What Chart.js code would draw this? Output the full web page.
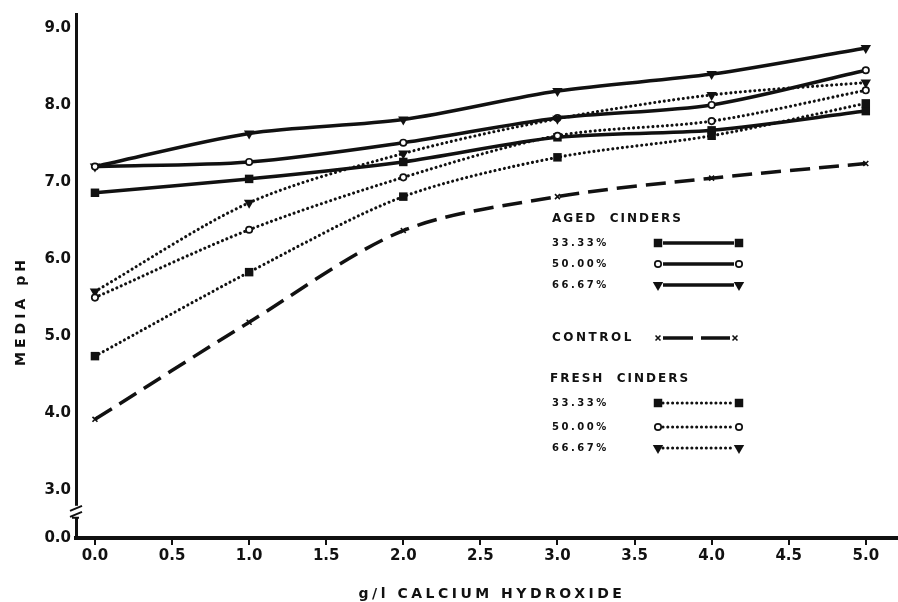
<!DOCTYPE html>
<html>
<head>
<meta charset="utf-8">
<script src="https://cdn.jsdelivr.net/npm/chart.js@4.4.0/dist/chart.umd.min.js"></script>
<style>
  html, body { margin: 0; padding: 0; background: #fff; }
  #wrap { width: 898px; height: 602px; }
</style>
</head>
<body>
<div id="wrap"><canvas id="ph-chart" width="898" height="602"></canvas></div>
<script>
// g/l calcium hydroxide added
var doses = [0, 1, 2, 3, 4, 5];
var xTickValues = [0, 0.5, 1, 1.5, 2, 2.5, 3, 3.5, 4, 4.5, 5];
var yTickValues = [3, 4, 5, 6, 7, 8, 9];
// bottom of the broken axis, labelled as 0.0
var axisBreakValue = 2.38;
var axisBreakLabel = '0.0';

// media pH
var aged333 = [6.86, 7.04, 7.26, 7.58, 7.67, 7.92];
var aged500 = [7.20, 7.26, 7.51, 7.83, 8.00, 8.45];
var aged667 = [7.20, 7.63, 7.81, 8.18, 8.40, 8.74];
var control = [3.92, 5.18, 6.37, 6.81, 7.05, 7.24];
var fresh333 = [4.74, 5.83, 6.81, 7.32, 7.60, 8.02];
var fresh500 = [5.50, 6.38, 7.06, 7.60, 7.79, 8.19];
var fresh667 = [5.58, 6.73, 7.37, 7.82, 8.13, 8.29];

var ink = '#111';

var lineStyles = {
  solid: { borderWidth: 3.5, borderDash: [], borderCapStyle: 'butt' },
  dotted: { borderWidth: 3.1, borderDash: [0.01, 4.8], borderCapStyle: 'round' },
  dashed: { borderWidth: 3.5, borderDash: [20, 9], borderCapStyle: 'butt' }
};
var markers = {
  square: { pointStyle: 'rect', radius: 6, rotation: 0, fill: ink, borderWidth: 0 },
  circle: { pointStyle: 'circle', radius: 3.2, rotation: 0, fill: '#fff', borderWidth: 1.7 },
  triangle: { pointStyle: 'triangle', radius: 6, rotation: 180, fill: ink, borderWidth: 0 },
  cross: { pointStyle: 'crossRot', radius: 3.5, rotation: 0, fill: ink, borderWidth: 1.6 }
};

function makeSeries(label, values, line, marker) {
  var l = lineStyles[line], m = markers[marker];
  return {
    label: label,
    data: doses.map(function (d, i) { return { x: d, y: values[i] }; }),
    borderColor: ink,
    borderWidth: l.borderWidth,
    borderDash: l.borderDash,
    borderCapStyle: l.borderCapStyle,
    tension: 0.3,
    fill: false,
    pointStyle: m.pointStyle,
    pointRadius: m.radius,
    pointRotation: m.rotation,
    pointBackgroundColor: m.fill,
    pointBorderColor: ink,
    pointBorderWidth: m.borderWidth
  };
}

var datasets = [
  makeSeries('control', control, 'dashed', 'cross'),
  makeSeries('fresh 33.33%', fresh333, 'dotted', 'square'),
  makeSeries('fresh 50.00%', fresh500, 'dotted', 'circle'),
  makeSeries('fresh 66.67%', fresh667, 'dotted', 'triangle'),
  makeSeries('aged 33.33%', aged333, 'solid', 'square'),
  makeSeries('aged 50.00%', aged500, 'solid', 'circle'),
  makeSeries('aged 66.67%', aged667, 'solid', 'triangle')
];

function spacedText(ctx, text, x, y, spacing) {
  if ('letterSpacing' in ctx) {
    ctx.letterSpacing = spacing + 'px';
    ctx.fillText(text, x, y);
    ctx.letterSpacing = '0px';
  } else {
    ctx.fillText(text, x, y);
  }
}

function drawMarker(ctx, marker, x, y) {
  var m = markers[marker];
  ctx.save();
  ctx.setLineDash([]);
  ctx.fillStyle = m.fill;
  ctx.strokeStyle = ink;
  ctx.lineWidth = m.borderWidth;
  Chart.helpers.drawPoint(ctx, { pointStyle: m.pointStyle, radius: m.radius, rotation: m.rotation, borderWidth: m.borderWidth }, x, y);
  ctx.restore();
}

function drawSample(ctx, line, marker, x1, x2, y) {
  var l = lineStyles[line];
  ctx.save();
  ctx.strokeStyle = ink;
  ctx.lineWidth = l.borderWidth;
  ctx.lineCap = l.borderCapStyle;
  ctx.setLineDash(line === 'dashed' ? [30, 8] : l.borderDash);
  ctx.beginPath();
  ctx.moveTo(x1 + 5, y);
  ctx.lineTo(x2 - 5, y);
  ctx.stroke();
  ctx.restore();
  drawMarker(ctx, marker, x1, y);
  drawMarker(ctx, marker, x2, y);
}

// axis titles, axis break and the grouped key
var decorations = {
  id: 'decorations',
  afterDraw: function (chart) {
    var ctx = chart.ctx;
    var area = chart.chartArea;
    var yScale = chart.scales.y;
    ctx.save();
    ctx.fillStyle = ink;
    ctx.textBaseline = 'middle';

    // x axis runs on to the right edge
    ctx.strokeStyle = ink;
    ctx.lineWidth = 4;
    ctx.beginPath();
    ctx.moveTo(area.right - 1, area.bottom);
    ctx.lineTo(chart.width, area.bottom);
    ctx.stroke();

    // axis titles
    ctx.font = 'bold 14px "DejaVu Sans"';
    ctx.textAlign = 'center';
    spacedText(ctx, 'g/l CALCIUM HYDROXIDE', 492, 594, 3.5);
    ctx.save();
    ctx.translate(21, 311);
    ctx.rotate(-Math.PI / 2);
    spacedText(ctx, 'MEDIA pH', 0, 0, 4);
    ctx.restore();

    // break in the y axis
    var yb = yScale.getPixelForValue(2.72);
    var ax = area.left;
    ctx.fillStyle = '#fff';
    ctx.fillRect(ax - 3, yb - 6, 6, 12);
    ctx.strokeStyle = ink;
    ctx.lineWidth = 2;
    ctx.beginPath();
    ctx.moveTo(ax - 6, yb - 1); ctx.lineTo(ax + 6, yb - 6);
    ctx.moveTo(ax - 6, yb + 5); ctx.lineTo(ax + 6, yb);
    ctx.moveTo(ax - 4, yb + 6); ctx.lineTo(ax + 3, yb + 6);
    ctx.stroke();

    // key
    ctx.fillStyle = ink;
    ctx.textAlign = 'left';
    var keyX = 552, lineX1 = 658, lineX2 = 739;
    ctx.font = 'bold 12px "DejaVu Sans"';
    spacedText(ctx, 'AGED  CINDERS', keyX, 219, 2);
    spacedText(ctx, 'CONTROL', keyX, 338, 2.5);
    spacedText(ctx, 'FRESH  CINDERS', keyX - 2, 379, 2);
    var rows = [
      ['33.33%', 243, 'solid', 'square'],
      ['50.00%', 264, 'solid', 'circle'],
      ['66.67%', 285, 'solid', 'triangle'],
      ['33.33%', 403, 'dotted', 'square'],
      ['50.00%', 427, 'dotted', 'circle'],
      ['66.67%', 448, 'dotted', 'triangle']
    ];
    ctx.font = 'bold 10px "DejaVu Sans"';
    rows.forEach(function (r) {
      ctx.fillStyle = ink;
      spacedText(ctx, r[0], keyX, r[1], 2.5);
      drawSample(ctx, r[2], r[3], lineX1, lineX2, r[1]);
    });
    drawSample(ctx, 'dashed', 'cross', lineX1, lineX2 - 4, 338);
    ctx.restore();
  }
};

Chart.defaults.font.family = '"DejaVu Sans"';
Chart.defaults.font.weight = 'bold';
Chart.defaults.color = ink;

var ctx = document.getElementById('ph-chart').getContext('2d');
var phChart = new Chart(ctx, {
  type: 'line',
  data: { datasets: datasets },
  options: {
    responsive: false,
    animation: false,
    layout: { padding: { top: 12, right: 0, bottom: 0, left: 0 } },
    plugins: {
      legend: { display: false },
      tooltip: { enabled: false }
    },
    scales: {
      x: {
        type: 'linear',
        min: -0.123,
        max: 5.17,
        afterBuildTicks: function (scale) {
          scale.ticks = xTickValues.map(function (v) { return { value: v }; });
        },
        afterFit: function (scale) { scale.height = 64; },
        ticks: {
          font: { size: 15, weight: 'bold' },
          padding: 2,
          maxRotation: 0,
          callback: function (v) { return v.toFixed(1); }
        },
        grid: { display: true, drawOnChartArea: false, drawTicks: true, tickLength: 7, lineWidth: 2, color: ink },
        border: { display: true, width: 4, color: ink }
      },
      y: {
        type: 'linear',
        min: axisBreakValue,
        max: 9.18,
        afterBuildTicks: function (scale) {
          scale.ticks = [axisBreakValue].concat(yTickValues).map(function (v) { return { value: v }; });
        },
        afterFit: function (scale) { scale.width = 76; },
        ticks: {
          font: { size: 15, weight: 'bold' },
          padding: 5,
          callback: function (v) { return v < yTickValues[0] ? axisBreakLabel : v.toFixed(1); }
        },
        grid: { display: true, drawOnChartArea: false, drawTicks: false },
        border: { display: true, width: 3, color: ink }
      }
    }
  },
  plugins: [decorations]
});
</script>
</body>
</html>
